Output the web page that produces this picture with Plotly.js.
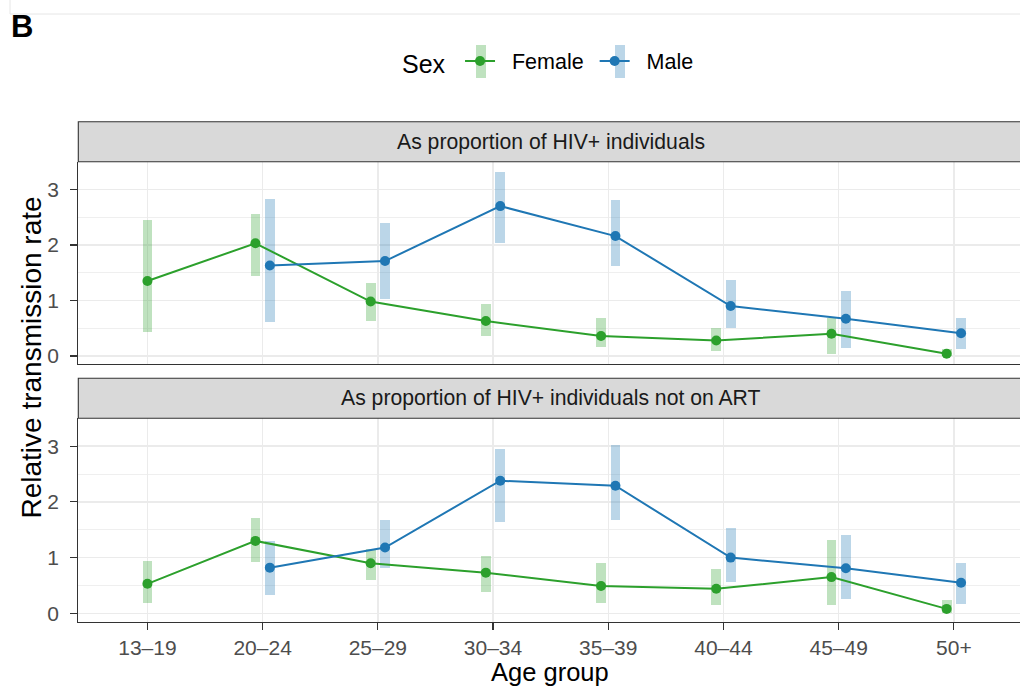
<!DOCTYPE html>
<html>
<head>
<meta charset="utf-8">
<script src="https://cdn.plot.ly/plotly-3.0.1.min.js"></script>
<style>html,body{margin:0;padding:0;background:#fff;}#chart{width:1020px;height:688px;}</style>
</head>
<body>
<div id="chart"></div>
<script>
// ---- Data ----
var ageGroups = ['13–19','20–24','25–29','30–34','35–39','40–44','45–49','50+'];
var panelTitles = ['As proportion of HIV+ individuals', 'As proportion of HIV+ individuals not on ART'];
var sexLabels = ['Female', 'Male'];

// Panel 1: as proportion of HIV+ individuals
var femaleAll    = [1.35, 2.03, 0.98, 0.63, 0.36, 0.28, 0.40, 0.04];
var femaleAllLo  = [0.43, 1.44, 0.63, 0.36, 0.16, 0.09, 0.04, 0.00];
var femaleAllHi  = [2.45, 2.55, 1.32, 0.94, 0.69, 0.51, 0.68, 0.13];
var maleAll      = [null, 1.63, 1.71, 2.70, 2.16, 0.90, 0.67, 0.41];
var maleAllLo    = [null, 0.61, 1.02, 2.03, 1.62, 0.51, 0.14, 0.13];
var maleAllHi    = [null, 2.82, 2.39, 3.32, 2.81, 1.36, 1.17, 0.68];

// Panel 2: as proportion of HIV+ individuals not on ART
var femaleNoArt   = [0.53, 1.30, 0.90, 0.73, 0.49, 0.44, 0.65, 0.08];
var femaleNoArtLo = [0.19, 0.93, 0.60, 0.38, 0.19, 0.15, 0.15, 0.00];
var femaleNoArtHi = [0.94, 1.71, 1.15, 1.03, 0.91, 0.80, 1.32, 0.24];
var maleNoArt     = [null, 0.82, 1.18, 2.38, 2.29, 1.00, 0.81, 0.55];
var maleNoArtLo   = [null, 0.33, 0.82, 1.64, 1.67, 0.57, 0.25, 0.16];
var maleNoArtHi   = [null, 1.30, 1.68, 2.95, 3.02, 1.54, 1.40, 0.91];

// ---- Styling ----
var GREEN = '#2CA02C', BLUE = '#1F77B4';
var GREEN_CI = 'rgba(44,160,44,0.3)', BLUE_CI = 'rgba(31,119,180,0.3)';
var FONT = 'Liberation Sans, Arial, Helvetica, sans-serif';
var DODGE = 0.0625, CIW = 0.085;
var W = 1020, H = 688;
var NB = '\u00A0';
function px(x){ return x / W; }
function py(y){ return 1 - y / H; }

var idx = ageGroups.map(function(_, i){ return i; });
function xpos(own, other, sign){
  return idx.map(function(i){
    if (own[i] == null) return null;
    return i + (other[i] == null ? 0 : sign * DODGE);
  });
}
function ciTrace(xs, lo, hi, color, ax){
  return {type:'bar', x:xs, base:lo, y:hi.map(function(h,i){ return h==null?null:h-lo[i]; }),
    width:CIW, marker:{color:color, line:{width:0}}, showlegend:false, hoverinfo:'skip',
    xaxis:ax[0], yaxis:ax[1]};
}
function lineTrace(xs, y, color, name, show, ax){
  return {type:'scatter', mode:'lines+markers', x:xs, y:y, name:name, legendgroup:name,
    showlegend:show, connectgaps:false,
    line:{color:color, width:2}, marker:{color:color, size:10},
    xaxis:ax[0], yaxis:ax[1]};
}

var axTop = ['x2','y2'], axBot = ['x','y'];
var fxA = xpos(femaleAll, maleAll, -1), mxA = xpos(maleAll, femaleAll, 1);
var fxN = xpos(femaleNoArt, maleNoArt, -1), mxN = xpos(maleNoArt, femaleNoArt, 1);

var traces = [
  ciTrace(fxA, femaleAllLo, femaleAllHi, GREEN_CI, axTop),
  ciTrace(mxA, maleAllLo, maleAllHi, BLUE_CI, axTop),
  ciTrace(fxN, femaleNoArtLo, femaleNoArtHi, GREEN_CI, axBot),
  ciTrace(mxN, maleNoArtLo, maleNoArtHi, BLUE_CI, axBot),
  lineTrace(fxA, femaleAll, GREEN, NB+NB+sexLabels[0]+NB, true, axTop),
  lineTrace(mxA, maleAll, BLUE, NB+NB+sexLabels[1], true, axTop),
  lineTrace(fxN, femaleNoArt, GREEN, NB+NB+sexLabels[0]+NB, false, axBot),
  lineTrace(mxN, maleNoArt, BLUE, NB+NB+sexLabels[1], false, axBot)
];

var xLeft = 78.3;
var xRange = [-0.6, (W - 146.7) / 115.3];
var yRange = [-0.15, 3.5];
var gridCol = '#EBEBEB';

var baseX = {
  range: xRange, tickmode:'array', tickvals: idx, ticktext: ageGroups,
  showgrid:true, gridcolor:gridCol, gridwidth:1.4, zeroline:false,
  showline:true, linecolor:'#333333', linewidth:1.1,
  fixedrange:true
};
var baseY = {
  range: yRange, tickmode:'array', tickvals:[0,1,2,3], ticktext:['0','1','2','3'],
  showgrid:true, gridcolor:gridCol, gridwidth:1.4, zeroline:false,
  minor:{tickmode:'array', tickvals:[0.5,1.5,2.5], showgrid:true, gridcolor:gridCol, gridwidth:0.8, ticks:''},
  showline:true, linecolor:'#333333', linewidth:1.1,
  ticks:'outside', ticklen:7, tickwidth:1.1, tickcolor:'#333333', ticklabelstandoff:7,
  tickfont:{family:FONT, size:21, color:'#4D4D4D'},
  fixedrange:true
};

var legendBar = function(cx, color){
  return {type:'rect', xref:'paper', yref:'paper', x0:px(cx-5), x1:px(cx+5), y0:py(78), y1:py(45),
    fillcolor:color, line:{width:0}, layer:'below'};
};

var layout = {
  width: W, height: H,
  margin:{l:0, r:0, t:0, b:0},
  paper_bgcolor:'#ffffff', plot_bgcolor:'#ffffff',
  barmode:'overlay', bargap:0,
  font:{family:FONT, color:'#000'},
  xaxis: Object.assign({}, baseX, {domain:[px(xLeft), 1], anchor:'y',
    ticks:'outside', ticklen:7, tickwidth:1.1, tickcolor:'#333333',
    tickfont:{family:FONT, size:21, color:'#4D4D4D'}}),
  xaxis2: Object.assign({}, baseX, {domain:[px(xLeft), 1], anchor:'y2', matches:'x',
    showticklabels:false, ticks:''}),
  yaxis: Object.assign({}, baseY, {domain:[py(621.7), py(418.3)], anchor:'x'}),
  yaxis2: Object.assign({}, baseY, {domain:[py(364.3), py(161.7)], anchor:'x2'}),
  showlegend:true,
  legend:{orientation:'h', x:px(400), y:py(62), xanchor:'left', yanchor:'middle',
    title:{text:'Sex'+NB, side:'left', font:{family:FONT, size:25, color:'#000'}},
    font:{family:FONT, size:21.5, color:'#000'}, itemwidth:30, tracegroupgap:0,
    bgcolor:'rgba(0,0,0,0)'},
  shapes:[
    // faint frame lines at very top of the figure
    {type:'line', xref:'paper', yref:'paper', x0:px(10), x1:1, y0:py(14), y1:py(14), line:{color:'#E6E6E6', width:1}},
    {type:'line', xref:'paper', yref:'paper', x0:px(10), x1:px(10), y0:1, y1:py(14), line:{color:'#E6E6E6', width:1}},
    // facet strips
    {type:'rect', xref:'paper', yref:'paper', x0:px(xLeft), x1:1.01, y0:py(161.7), y1:py(121.7),
      fillcolor:'#D9D9D9', line:{color:'#333333', width:1.1}, layer:'above'},
    {type:'rect', xref:'paper', yref:'paper', x0:px(xLeft), x1:1.01, y0:py(418.3), y1:py(378.3),
      fillcolor:'#D9D9D9', line:{color:'#333333', width:1.1}, layer:'above'},
    // interval bars behind the legend keys
    legendBar(481, GREEN_CI),
    legendBar(620, BLUE_CI)
  ],
  annotations:[
    {text:'<b>B</b>', xref:'paper', yref:'paper', x:px(9), y:py(27), xanchor:'left', yanchor:'middle',
      showarrow:false, font:{family:FONT, size:31, color:'#000'}},
    {text:panelTitles[0], xref:'paper', yref:'paper', x:px(550.6), y:py(141.7), xanchor:'center', yanchor:'middle',
      showarrow:false, font:{family:FONT, size:21.2, color:'#1A1A1A'}},
    {text:panelTitles[1], xref:'paper', yref:'paper', x:px(550.6), y:py(398.3), xanchor:'center', yanchor:'middle',
      showarrow:false, font:{family:FONT, size:21.2, color:'#1A1A1A'}},
    {text:'Relative transmission rate', xref:'paper', yref:'paper', x:px(31), y:py(357.5), xanchor:'center', yanchor:'middle',
      textangle:-90, showarrow:false, font:{family:FONT, size:28, color:'#000'}},
    {text:'Age group', xref:'paper', yref:'paper', x:px(550), y:py(672), xanchor:'center', yanchor:'middle',
      showarrow:false, font:{family:FONT, size:25.5, color:'#000'}}
  ]
};

Plotly.newPlot('chart', traces, layout, {staticPlot:true, displayModeBar:false});
</script>
</body>
</html>
